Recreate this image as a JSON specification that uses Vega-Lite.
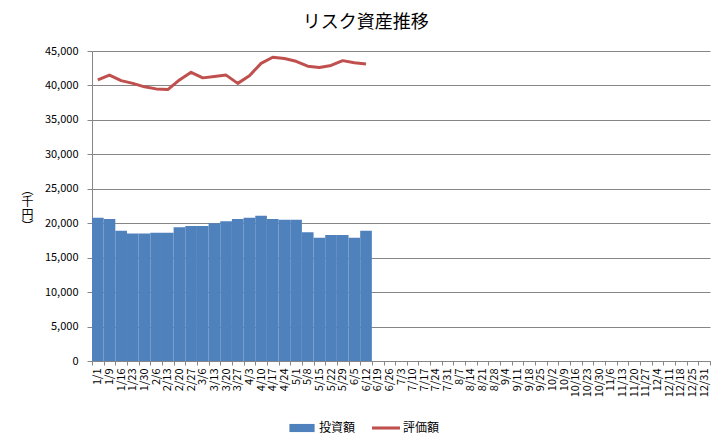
{
  "$schema": "https://vega.github.io/schema/vega-lite/v6.json",
  "width": 618,
  "height": 310,
  "autosize": "none",
  "padding": {"left": 92, "top": 51, "right": 16, "bottom": 83},
  "background": "white",
  "title": {
    "text": "リスク資産推移",
    "fontSize": 18,
    "fontWeight": "normal",
    "color": "black",
    "frame": "bounds",
    "offset": 13
  },
  "data": {
    "values": [
      {"date": "1/1", "invest": 20800, "value": 40800},
      {"date": "1/9", "invest": 20600, "value": 41500},
      {"date": "1/16", "invest": 18900, "value": 40700},
      {"date": "1/23", "invest": 18500, "value": 40300},
      {"date": "1/30", "invest": 18500, "value": 39800},
      {"date": "2/6", "invest": 18600, "value": 39500},
      {"date": "2/13", "invest": 18600, "value": 39400},
      {"date": "2/20", "invest": 19400, "value": 40800},
      {"date": "2/27", "invest": 19600, "value": 41900},
      {"date": "3/6", "invest": 19600, "value": 41100},
      {"date": "3/13", "invest": 20000, "value": 41300},
      {"date": "3/20", "invest": 20300, "value": 41500},
      {"date": "3/27", "invest": 20600, "value": 40300},
      {"date": "4/3", "invest": 20800, "value": 41400},
      {"date": "4/10", "invest": 21100, "value": 43200},
      {"date": "4/17", "invest": 20600, "value": 44100},
      {"date": "4/24", "invest": 20500, "value": 43900},
      {"date": "5/1", "invest": 20500, "value": 43500},
      {"date": "5/8", "invest": 18700, "value": 42800},
      {"date": "5/15", "invest": 17900, "value": 42600},
      {"date": "5/22", "invest": 18300, "value": 42900},
      {"date": "5/29", "invest": 18300, "value": 43600},
      {"date": "6/5", "invest": 17900, "value": 43300},
      {"date": "6/12", "invest": 18900, "value": 43100}
    ]
  },
  "encoding": {
    "x": {
      "field": "date",
      "type": "nominal",
      "scale": {
        "domain": ["1/1", "1/9", "1/16", "1/23", "1/30", "2/6", "2/13", "2/20", "2/27", "3/6", "3/13", "3/20", "3/27", "4/3", "4/10", "4/17", "4/24", "5/1", "5/8", "5/15", "5/22", "5/29", "6/5", "6/12", "6/19", "6/26", "7/3", "7/10", "7/17", "7/24", "7/31", "8/7", "8/14", "8/21", "8/28", "9/4", "9/11", "9/18", "9/25", "10/2", "10/9", "10/16", "10/23", "10/30", "11/6", "11/13", "11/20", "11/27", "12/4", "12/11", "12/18", "12/25", "12/31"],
        "paddingInner": 0,
        "paddingOuter": 0
      },
      "axis": {
        "title": null,
        "labelAngle": -90,
        "labelAlign": "right",
        "labelBaseline": "middle",
        "labelPadding": 3,
        "labelFontSize": 11,
        "labelColor": "black",
        "labelOverlap": false,
        "tickBand": "extent",
        "tickSize": 4,
        "tickColor": "#868686",
        "domainColor": "#868686",
        "grid": false
      }
    }
  },
  "layer": [
    {
      "mark": {"type": "bar", "color": "#4F81BD"},
      "encoding": {
        "y": {
          "field": "invest",
          "type": "quantitative",
          "scale": {"domain": [0, 45000], "nice": false},
          "axis": {
            "title": ["︵", "千", "円", "︶"],
            "titleAngle": 0,
            "titleX": -65,
            "titleY": 133,
            "titleAlign": "center",
            "titleBaseline": "top",
            "titleFontSize": 12,
            "titleFontWeight": "normal",
            "titleLineHeight": 12.5,
            "titleColor": "black",
            "values": [0, 5000, 10000, 15000, 20000, 25000, 30000, 35000, 40000, 45000],
            "labelExpr": "format(datum.value, ',')",
            "labelOverlap": false,
            "labelFontSize": 11,
            "labelColor": "black",
            "labelPadding": 9,
            "tickSize": 5,
            "tickColor": "#868686",
            "domainColor": "#868686",
            "gridColor": "#868686"
          }
        },
        "color": {
          "datum": "投資額",
          "type": "nominal",
          "scale": {"domain": ["投資額", "評価額"], "range": ["#4F81BD", "#C0504D"]},
          "legend": {
            "title": null,
            "orient": "none",
            "direction": "horizontal",
            "legendX": 196,
            "legendY": 363,
            "labelFontSize": 12,
            "labelColor": "black",
            "labelOffset": 3,
            "columnPadding": 16,
            "symbolSize": 784,
            "symbolOpacity": 1,
            "encode": {
              "symbols": {
                "update": {
                  "shape": {"signal": "datum.value === '投資額' ? 'M-0.9,-0.29H0.9V0.29H-0.9Z' : 'M-1,-0.11H1V0.11H-1Z'"},
                  "fill": {"scale": "color", "field": "value"},
                  "fillOpacity": {"value": 1},
                  "strokeWidth": {"value": 0}
                }
              }
            }
          }
        }
      }
    },
    {
      "mark": {"type": "line", "strokeWidth": 3, "strokeJoin": "round"},
      "encoding": {
        "y": {
          "field": "value",
          "type": "quantitative",
          "scale": {"domain": [0, 45000], "nice": false},
          "axis": {
            "title": ["︵", "千", "円", "︶"],
            "titleAngle": 0,
            "titleX": -65,
            "titleY": 133,
            "titleAlign": "center",
            "titleBaseline": "top",
            "titleFontSize": 12,
            "titleFontWeight": "normal",
            "titleLineHeight": 12.5,
            "titleColor": "black",
            "values": [0, 5000, 10000, 15000, 20000, 25000, 30000, 35000, 40000, 45000],
            "labelExpr": "format(datum.value, ',')",
            "labelOverlap": false,
            "labelFontSize": 11,
            "labelColor": "black",
            "labelPadding": 9,
            "tickSize": 5,
            "tickColor": "#868686",
            "domainColor": "#868686",
            "gridColor": "#868686"
          }
        },
        "color": {"datum": "評価額", "type": "nominal"}
      }
    }
  ],
  "config": {
    "font": "Noto Sans CJK JP",
    "view": {"stroke": null}
  }
}
